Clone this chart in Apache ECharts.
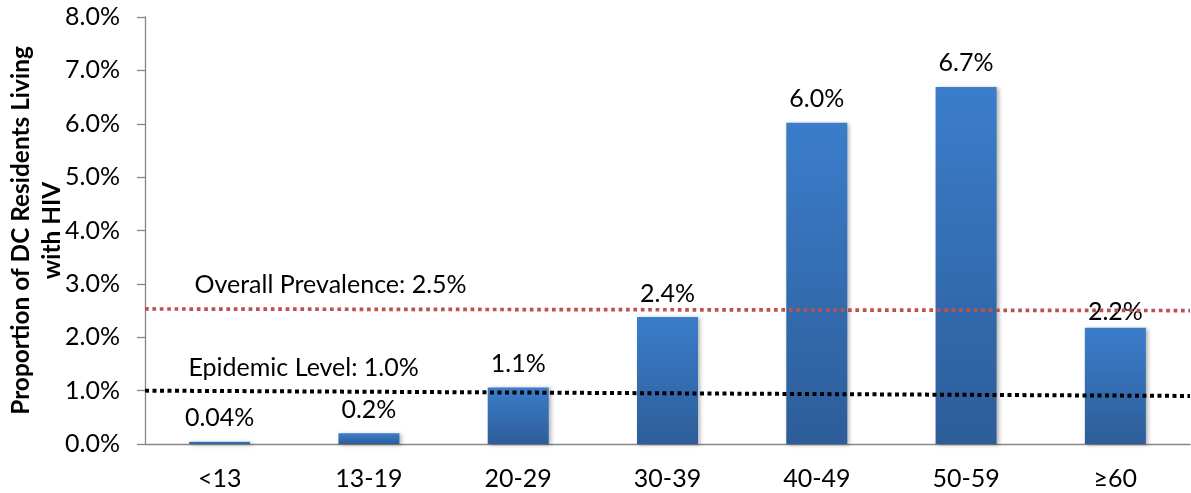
<!DOCTYPE html>
<html>
<head>
<meta charset="utf-8">
<script src="https://cdn.jsdelivr.net/npm/echarts@6/dist/echarts.min.js"></script>
<style>html,body{margin:0;padding:0;background:#fff}#c{width:1191px;height:493px}</style>
</head>
<body>
<div id="c"></div>
<script>
const categories = ['<13', '13-19', '20-29', '30-39', '40-49', '50-59', '\u226560'];
const values = [0.04, 0.2, 1.06, 2.38, 6.02, 6.69, 2.18];
const valueLabels = ['0.04%', '0.2%', '1.1%', '2.4%', '6.0%', '6.7%', '2.2%'];
const prevalenceLine = [2.53, 2.5];
const epidemicLine = [1.0, 0.9];
const prevalenceText = 'Overall Prevalence: 2.5%';
const epidemicText = 'Epidemic Level: 1.0%';
const yTicks = { min: 0, max: 8, interval: 1 };

const FONT = 'Lato';
const FS = 25;
const chart = echarts.init(document.getElementById('c'));
const barColor = new echarts.graphic.LinearGradient(0, 0, 0, 1, [
  { offset: 0, color: '#3b7dcb' },
  { offset: 1, color: '#2d5d99' }
]);

chart.setOption({
  animation: false,
  grid: { left: 145, right: 1, top: 17, bottom: 49, containLabel: false, outerBoundsMode: 'none' },
  xAxis: [
    {
      type: 'category',
      data: categories,
      axisLine: { lineStyle: { color: '#868686', width: 1.3 } },
      axisTick: { show: false },
      axisLabel: { color: '#000', fontFamily: FONT, fontSize: FS, margin: 22 }
    },
    { type: 'value', min: 0, max: 1, show: false }
  ],
  yAxis: {
    type: 'value',
    min: yTicks.min, max: yTicks.max, interval: yTicks.interval,
    name: 'Proportion of DC Residents Living\nwith HIV',
    nameLocation: 'middle',
    nameRotate: 90,
    nameGap: 77,
    nameMoveOverlap: false,
    nameTextStyle: { color: '#000', fontFamily: FONT, fontWeight: 'bold', fontSize: 24.4, lineHeight: 31 },
    axisLine: { show: true, lineStyle: { color: '#868686', width: 1.3 } },
    axisTick: { show: true, length: 8, lineStyle: { color: '#868686', width: 1.3 } },
    splitLine: { show: false },
    axisLabel: { color: '#000', fontFamily: FONT, fontSize: FS, margin: 25,
      formatter: v => v.toFixed(1) + '%' }
  },
  series: [
    {
      type: 'bar',
      data: values.map((v, i) => ({
        value: v,
        label: i === 6 ? { distance: 3 } : {}
      })),
      barWidth: 61,
      itemStyle: { color: barColor, shadowBlur: 4, shadowColor: 'rgba(0,0,0,0.3)', shadowOffsetX: 2, shadowOffsetY: 1 },
      label: {
        show: true, position: 'top', distance: 11,
        color: '#000', fontFamily: FONT, fontSize: FS,
        formatter: p => valueLabels[p.dataIndex]
      },
      z: 2
    },
    {
      type: 'line',
      xAxisIndex: 1,
      data: [
        { value: [0, prevalenceLine[0]], label: { show: true, formatter: prevalenceText, position: [50, -36], color: '#000', fontFamily: FONT, fontSize: FS } },
        [1, prevalenceLine[1]]
      ],
      symbol: 'circle', symbolSize: 1, showSymbol: true,
      itemStyle: { color: 'rgba(0,0,0,0)' },
      lineStyle: { color: '#c0504d', width: 3.7, type: [3.7, 3.7] },
      z: 3
    },
    {
      type: 'line',
      xAxisIndex: 1,
      data: [
        { value: [0, epidemicLine[0]], label: { show: true, formatter: epidemicText, position: [44, -35], color: '#000', fontFamily: FONT, fontSize: FS } },
        [1, epidemicLine[1]]
      ],
      symbol: 'circle', symbolSize: 1, showSymbol: true,
      itemStyle: { color: 'rgba(0,0,0,0)' },
      lineStyle: { color: '#000', width: 4, type: [4, 3.5] },
      z: 3
    }
  ]
});
</script>
</body>
</html>
